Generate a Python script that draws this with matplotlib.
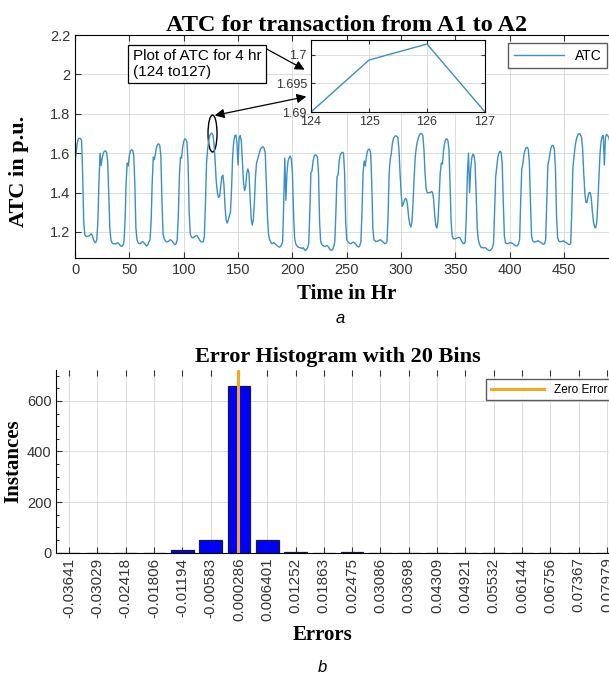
import matplotlib
matplotlib.use("Agg")
import matplotlib.pyplot as plt
import numpy as np
from matplotlib.patches import Ellipse

# hourly ATC values (p.u.), hour 0 .. 495
atc = [
    # 0-22
    1.556, 1.60, 1.65, 1.672, 1.676, 1.675, 1.665, 1.50, 1.25, 1.185,
    1.178, 1.176, 1.178, 1.18, 1.185, 1.19, 1.18, 1.16, 1.148, 1.145,
    1.16, 1.25, 1.45,
    # 23-47
    1.60, 1.537, 1.575, 1.60, 1.61, 1.612, 1.605, 1.56, 1.40, 1.22,
    1.16, 1.145, 1.14, 1.14, 1.138, 1.14, 1.145, 1.142, 1.135, 1.128,
    1.126, 1.13, 1.15, 1.25, 1.45,
    # 48-71
    1.55, 1.535, 1.59, 1.612, 1.617, 1.615, 1.59, 1.45, 1.22,
    1.16, 1.145, 1.14, 1.14, 1.145, 1.15, 1.148, 1.14, 1.132, 1.128,
    1.135, 1.15, 1.16, 1.25, 1.45,
    # 72-96
    1.58, 1.567, 1.60, 1.63, 1.645, 1.647, 1.64, 1.58, 1.35, 1.19,
    1.165, 1.155, 1.15, 1.15, 1.152, 1.158, 1.16, 1.155, 1.148, 1.14,
    1.135, 1.14, 1.16, 1.28, 1.48,
    # 97-121
    1.58, 1.575, 1.63, 1.66, 1.673, 1.67, 1.655, 1.55, 1.30, 1.19,
    1.175, 1.17, 1.172, 1.175, 1.18, 1.182, 1.175, 1.165, 1.155, 1.15,
    1.148, 1.15, 1.18, 1.35, 1.55,
    # 122-144
    1.62, 1.665, 1.69, 1.699, 1.702, 1.69, 1.64, 1.55, 1.45,
    1.40, 1.375, 1.38, 1.43, 1.48, 1.488, 1.44, 1.33, 1.26, 1.245,
    1.26, 1.28, 1.30, 1.42,
    # 145-179
    1.58, 1.66, 1.69, 1.692, 1.65, 1.54, 1.68, 1.69, 1.66, 1.55,
    1.45, 1.41, 1.43, 1.50, 1.52, 1.50, 1.38, 1.27, 1.235, 1.26,
    1.35, 1.48, 1.55, 1.57, 1.59, 1.61, 1.625, 1.63, 1.632, 1.625,
    1.60, 1.45, 1.28, 1.19, 1.16,
    # 180-203
    1.15, 1.14, 1.142, 1.145, 1.14, 1.135, 1.13, 1.125, 1.122, 1.125,
    1.135, 1.15, 1.35, 1.575, 1.36, 1.50, 1.56, 1.575, 1.585, 1.57,
    1.50, 1.30, 1.17, 1.14,
    # 204-226
    1.13, 1.125, 1.12, 1.12, 1.118, 1.115, 1.12, 1.11, 1.105, 1.11,
    1.12, 1.14, 1.30, 1.50, 1.51, 1.56, 1.585, 1.592, 1.59, 1.58,
    1.50, 1.25, 1.15,
    # 227-250
    1.135, 1.13, 1.128, 1.125, 1.128, 1.13, 1.125, 1.115, 1.108, 1.106,
    1.11, 1.125, 1.15, 1.30, 1.48, 1.49, 1.56, 1.59, 1.60, 1.605,
    1.60, 1.50, 1.25, 1.16,
    # 251-275
    1.15, 1.145, 1.14, 1.14, 1.145, 1.148, 1.145, 1.14, 1.132, 1.125,
    1.123, 1.13, 1.15, 1.30, 1.50, 1.56, 1.535, 1.58, 1.61, 1.62,
    1.62, 1.60, 1.45, 1.22, 1.16,
    # 276-312
    1.155, 1.15, 1.152, 1.155, 1.158, 1.16, 1.155, 1.15, 1.145, 1.14,
    1.142, 1.15, 1.28, 1.50, 1.57, 1.60, 1.65, 1.675, 1.685, 1.688,
    1.686, 1.68, 1.62, 1.50, 1.40, 1.33, 1.34, 1.36, 1.37, 1.365,
    1.33, 1.27, 1.24, 1.225, 1.25, 1.35, 1.48,
    # 313-347
    1.58, 1.63, 1.66, 1.68, 1.695, 1.70, 1.70, 1.69, 1.62, 1.50,
    1.42, 1.40, 1.398, 1.40, 1.40, 1.405, 1.40, 1.36, 1.28, 1.23,
    1.22, 1.26, 1.38, 1.50, 1.55, 1.545, 1.61, 1.65, 1.67, 1.673,
    1.665, 1.62, 1.45, 1.25, 1.18,
    # 348-371
    1.165, 1.165, 1.165, 1.168, 1.17, 1.172, 1.17, 1.16, 1.15, 1.142,
    1.14, 1.15, 1.28, 1.50, 1.60, 1.40, 1.52, 1.575, 1.595, 1.59,
    1.55, 1.40, 1.22, 1.16,
    # 372-396
    1.14, 1.125, 1.12, 1.12, 1.118, 1.12, 1.118, 1.112, 1.108, 1.105,
    1.106, 1.11, 1.12, 1.14, 1.30, 1.48, 1.53, 1.58, 1.60, 1.61,
    1.605, 1.55, 1.35, 1.18, 1.145,
    # 397-420
    1.14, 1.14, 1.142, 1.145, 1.145, 1.142, 1.14, 1.135, 1.13, 1.128,
    1.13, 1.14, 1.16, 1.35, 1.52, 1.545, 1.59, 1.615, 1.628, 1.63,
    1.62, 1.55, 1.35, 1.18,
    # 421-444
    1.155, 1.15, 1.148, 1.15, 1.152, 1.155, 1.15, 1.148, 1.145, 1.14,
    1.137, 1.14, 1.16, 1.35, 1.54, 1.565, 1.60, 1.63, 1.64, 1.638,
    1.62, 1.52, 1.28, 1.17,
    # 445-495
    1.155, 1.15, 1.15, 1.152, 1.155, 1.152, 1.148, 1.145, 1.14, 1.137,
    1.136, 1.14, 1.30, 1.52, 1.58, 1.63, 1.665, 1.685, 1.698, 1.70,
    1.695, 1.68, 1.62, 1.50, 1.40, 1.35, 1.35, 1.38, 1.40, 1.40,
    1.37, 1.30, 1.25, 1.225, 1.22, 1.25, 1.35, 1.48, 1.60, 1.66,
    1.685, 1.69, 1.54, 1.68, 1.695, 1.69, 1.68, 1.66, 1.58, 1.40,
    1.22,
]
hours = np.arange(len(atc))

# zoomed part, hours 124 to 127
inset_hours = [124, 125, 126, 127]
inset_atc = [1.69, 1.6991, 1.7019, 1.69]

# error histogram, 20 bins
bin_centers = [-0.03641, -0.03029, -0.02418, -0.01806, -0.01194, -0.00583,
               0.000286, 0.006401, 0.01252, 0.01863, 0.02475, 0.03086,
               0.03698, 0.04309, 0.04921, 0.05532, 0.06144, 0.06756,
               0.07367, 0.07979]
bin_labels = ["-0.03641", "-0.03029", "-0.02418", "-0.01806", "-0.01194",
              "-0.00583", "0.000286", "0.006401", "0.01252", "0.01863",
              "0.02475", "0.03086", "0.03698", "0.04309", "0.04921",
              "0.05532", "0.06144", "0.06756", "0.07367", "0.07979"]
counts = [0, 0, 0, 0, 10, 50, 660, 50, 3, 0, 2, 0, 0, 0, 0, 0, 0, 0, 0, 0]

line_col = "#3a8fc4"
tick_col = "#333333"
serif = ["Liberation Serif", "DejaVu Serif"]
sans = ["Liberation Sans", "DejaVu Sans"]

plt.rcParams["font.family"] = sans
plt.rcParams["axes.linewidth"] = 0.8

W, H = 609, 676
fig = plt.figure(figsize=(6.09, 6.76), dpi=100)

# ---------- a: ATC time series ----------
ax = fig.add_axes([0.1232, 0.6183, 0.8924, 0.3297])
ax.plot(hours, atc, color=line_col, linewidth=1.0, label="ATC")
ax.set_xlim(0, 500)
ax.set_ylim(1.067, 2.2)
ax.set_xticks(np.arange(0, 451, 50))
ax.set_yticks([1.2, 1.4, 1.6, 1.8, 2.0, 2.2])
ax.set_yticklabels(["1.2", "1.4", "1.6", "1.8", "2", "2.2"])
ax.grid(True, color="#dcdcdc", linewidth=0.7)
ax.set_axisbelow(True)
ax.tick_params(direction="in", length=4, labelsize=10.5, colors=tick_col,
               top=True, right=True)
ax.set_title("ATC for transaction from A1 to A2", family=serif,
             fontweight="bold", fontsize=17.5, pad=3)
ax.set_xlabel("Time in Hr", family=serif, fontweight="bold", fontsize=15)
ax.xaxis.set_label_coords(0.5, -0.115)
ax.set_ylabel("ATC in p.u.", family=serif, fontweight="bold", fontsize=16)
ax.yaxis.set_label_coords(-0.0846, 0.39)
ax.legend(loc="upper right", bbox_to_anchor=(607 / W, 1 - 43 / H),
          bbox_transform=fig.transFigure, borderaxespad=0, fontsize=10,
          frameon=True, fancybox=False, edgecolor="#333333",
          handlelength=3.6)

ax.add_patch(Ellipse((126.5, 1.70), 8.3, 0.188, fill=False,
                     edgecolor="black", linewidth=1.0))

# inset
axi = fig.add_axes([0.5107, 0.8343, 0.2857, 0.1065])
axi.plot(inset_hours, inset_atc, color=line_col, linewidth=1.0)
axi.set_xlim(124, 127)
axi.set_ylim(1.69, 1.7026)
axi.set_xticks(inset_hours)
axi.set_yticks([1.69, 1.695, 1.7])
axi.set_yticklabels(["1.69", "1.695", "1.7"])
axi.grid(True, color="#dcdcdc", linewidth=0.7)
axi.tick_params(direction="in", length=3, labelsize=9, colors=tick_col,
                top=True, right=True, pad=3)

# text box and arrows in figure pixels
fig.text(133 / W, 1 - 64 / H, "Plot of ATC for 4 hr\n(124 to127)",
         fontsize=11, va="center", ha="left", linespacing=1.15,
         bbox=dict(boxstyle="square,pad=0.3", facecolor="white",
                   edgecolor="black", linewidth=0.9))
ax.annotate("", xy=(307 / W, 1 - 71 / H), xytext=(263 / W, 1 - 47 / H),
            xycoords="figure fraction", textcoords="figure fraction",
            arrowprops=dict(arrowstyle="-|>", color="black", lw=0.9,
                            mutation_scale=14))
ax.annotate("", xy=(309 / W, 1 - 96 / H), xytext=(212 / W, 1 - 116 / H),
            xycoords="figure fraction", textcoords="figure fraction",
            arrowprops=dict(arrowstyle="<|-|>", color="black", lw=0.9,
                            mutation_scale=14))

fig.text(340 / W, 1 - 318 / H, "a", fontsize=12, style="italic",
         ha="center", va="center")

# ---------- b: error histogram ----------
bx = fig.add_axes([0.0924, 0.1824, 0.9256, 0.2703])
bw = bin_centers[1] - bin_centers[0]
bx.bar(bin_centers, counts, width=bw * 0.8, color="#0000ff",
       edgecolor="#1a1a40", linewidth=0.9, zorder=2)
bx.axvline(0, color="#f5a623", linewidth=2.2, label="Zero Error", zorder=3)
bx.set_xlim(-0.03917, 0.0826)
bx.set_ylim(0, 722)
bx.set_xticks(bin_centers)
bx.set_xticklabels(bin_labels, rotation=90)
bx.set_yticks([0, 200, 400, 600])
bx.set_yticks(np.arange(0, 721, 50), minor=True)
bx.grid(True, which="major", color="#dcdcdc", linewidth=0.7)
bx.set_axisbelow(True)
bx.tick_params(axis="x", labelsize=11)
bx.tick_params(direction="in", length=4, colors=tick_col, top=True)
bx.tick_params(axis="y", labelsize=10.5)
bx.tick_params(which="minor", direction="in", length=2, left=True)
bx.spines["top"].set_visible(False)
bx.spines["right"].set_visible(False)
bx.set_title("Error Histogram with 20 Bins", family=serif, fontweight="bold",
             fontsize=16, pad=6)
bx.set_xlabel("Errors", family=serif, fontweight="bold", fontsize=15)
bx.xaxis.set_label_coords((323 - 56.3) / 563.7, -0.395)
bx.set_ylabel("Instances", family=serif, fontweight="bold", fontsize=15)
bx.yaxis.set_label_coords(-0.059, 0.5)
bx.legend(loc="upper right", bbox_to_anchor=(612 / W, 1 - 379 / H),
          bbox_transform=fig.transFigure, borderaxespad=0, fontsize=8.5,
          frameon=True, fancybox=False, edgecolor="#333333",
          handlelength=4.5)

fig.text(322 / W, 1 - 668 / H, "b", fontsize=12, style="italic",
         ha="center", va="center")

fig.savefig("out.png", dpi=100)
